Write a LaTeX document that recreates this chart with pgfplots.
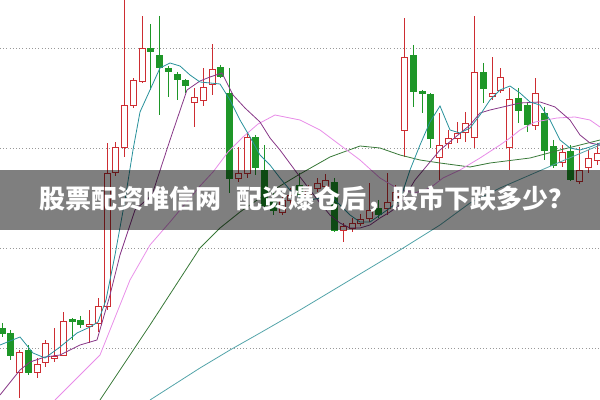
\documentclass[border=0pt]{standalone}
\usepackage{pgfplots}
\pgfplotsset{compat=1.18}
\usepgfplotslibrary{statistics}
\usepackage{fontspec}
\newfontfamily\cjk{Noto Sans CJK SC}
\definecolor{kred}{RGB}{205,45,50}
\definecolor{kgreen}{RGB}{30,150,40}
\definecolor{mafive}{RGB}{40,145,155}
\definecolor{maten}{RGB}{135,55,135}
\definecolor{matwenty}{RGB}{232,140,232}
\definecolor{mathirty}{RGB}{55,120,55}
\definecolor{masixty}{RGB}{85,165,170}
% candle: x, open, high, low, close
\newcommand\up[5]{\addplot[draw=kred, fill=white, line width=0.6pt,
  boxplot prepared={draw position=#1, lower whisker=#4, lower quartile=#2,
  median=#2, upper quartile=#5, upper whisker=#3}] coordinates {};}
\newcommand\dn[5]{\addplot[draw=kgreen, fill=kgreen, line width=0.6pt,
  boxplot prepared={draw position=#1, lower whisker=#4, lower quartile=#5,
  median=#5, upper quartile=#2, upper whisker=#3}] coordinates {};}
\begin{document}
\begin{tikzpicture}
\begin{axis}[
  width=450pt, height=300pt, scale only axis,
  xmin=0, xmax=600, ymin=0, ymax=400,
  axis line style={draw=none},
  xtick=\empty, ytick={52,152,252,352}, yticklabels={},
  major tick length=0pt,
  ymajorgrids, grid style={dotted, gray!80, line width=0.7pt},
  boxplot/draw direction=y,
  boxplot/box extend=6, boxplot/whisker extend=0,
]
\dn{2}{72}{77}{63}{67}
\dn{10.75}{67}{70}{40}{45}
\up{19.5}{28}{50}{2}{48}
\dn{28.25}{50}{55}{25}{28}
\up{37}{28}{42}{22}{36}
\up{45.75}{38}{60}{33}{57}
\up{54.5}{42}{72}{38}{44}
\up{63.25}{45}{88}{44}{79}
\dn{72}{81}{82}{60}{79}
\dn{80.75}{80}{84}{72}{76}
\up{89.5}{74}{90}{57}{76}
\up{98.25}{77}{102}{68}{94}
\up{107}{94}{257}{90}{227}
\up{115.75}{228}{258}{224}{253}
\up{124.5}{253}{400}{243}{295}
\up{133.25}{295}{322}{292}{320}
\up{142}{319}{384}{317}{352}
\dn{150.75}{352}{376}{310}{349}
\dn{159.5}{345}{384}{285}{333}
\dn{168.25}{332}{334}{303}{329}
\dn{177}{326}{328}{300}{321}
\dn{185.75}{320}{321}{307}{315}
\up{194.5}{298}{312}{273}{303}
\up{203.25}{300}{332}{294}{313}
\up{212}{316}{356}{305}{331}
\dn{220.75}{333}{335}{322}{324}
\dn{229.5}{307}{332}{207}{222}
\up{238.25}{222}{253}{218}{227}
\up{247}{227}{267}{222}{263}
\dn{255.75}{263}{265}{225}{233}
\dn{264.5}{230}{255}{190}{195}
\dn{273.25}{200}{210}{185}{190}
\up{282}{188}{205}{185}{200}
\up{290.75}{200}{212}{195}{205}
\dn{299.5}{215}{227}{200}{205}
\up{308.25}{205}{215}{200}{210}
\up{317}{212}{222}{208}{217}
\up{325.75}{214}{226}{210}{220}
\dn{334.5}{218}{222}{168}{170}
\up{343.25}{170}{177}{158}{174}
\up{352}{172}{182}{168}{177}
\up{360.75}{177}{186}{174}{181}
\up{369.5}{182}{217}{178}{190}
\dn{378.25}{192}{200}{182}{186}
\up{387}{192}{227}{185}{198}
\up{395.75}{200}{215}{195}{208}
\up{404.5}{270}{382}{243}{343}
\dn{413.25}{345}{355}{293}{309}
\dn{422}{309}{310}{287}{307}
\dn{430.75}{306}{307}{252}{262}
\up{439.5}{243}{287}{220}{255}
\up{448.25}{257}{270}{252}{262}
\up{457}{262}{278}{257}{267}
\up{465.75}{268}{288}{258}{277}
\up{474.5}{263}{384}{252}{328}
\dn{483.25}{328}{337}{297}{312}
\up{492}{304}{343}{300}{307}
\up{500.75}{310}{332}{307}{323}
\up{509.5}{253}{312}{230}{301}
\dn{518.25}{302}{312}{277}{290}
\dn{527}{295}{298}{268}{276}
\up{535.75}{275}{322}{270}{307}
\dn{544.5}{287}{293}{240}{250}
\dn{553.25}{254}{260}{232}{235}
\up{562}{238}{255}{233}{248}
\dn{570.75}{249}{255}{219}{221}
\up{579.5}{219}{253}{216}{230}
\up{588.25}{233}{250}{227}{242}
\up{597}{240}{257}{235}{247}
% moving averages
\addplot[masixty, line width=0.6pt] coordinates {(150,0) (200,32) (230,50) (260,67) (300,90) (345,117) (400,150) (440,175) (470,197) (500,212) (530,225) (560,238) (600,255)};
\addplot[mathirty, line width=0.6pt] coordinates {(100,0) (150,75) (200,152) (220,172) (240,188) (260,202) (280,214) (300,226) (330,243) (360,254) (380,252) (400,245) (420,240) (440,237) (470,233) (490,237) (530,242) (560,250) (600,260)};
\addplot[matwenty, line width=0.6pt] coordinates {(55,0) (85,30) (100,45) (110,70) (130,120) (150,155) (170,178) (190,202) (200,214) (213,228) (228,248) (243,263) (258,276) (275,285) (300,280) (320,270) (340,255) (360,240) (380,222) (400,210) (415,207) (430,212) (443,222) (460,230) (480,242) (500,255) (510,262) (520,270) (535,278) (557,282) (575,283) (590,280) (600,273)};
\addplot[maten, line width=0.6pt] coordinates {(0,5) (20,30) (30,38) (45,43) (60,45) (80,55) (97,60) (110,105) (120,145) (135,190) (152,205) (170,260) (187,310) (200,319) (210,323) (222,327) (233,305) (245,292) (260,278) (270,262) (280,250) (297,227) (310,210) (320,197) (330,185) (340,177) (350,172) (360,172) (370,175) (380,182) (390,188) (400,195) (415,220) (440,250) (470,275) (480,287) (490,290) (520,297) (540,298) (555,293) (570,280) (580,265) (590,257) (600,255)};
\addplot[mafive, line width=0.6pt] coordinates {(0,55) (20,63) (33,47) (45,42) (60,53) (77,67) (90,73) (98,78) (106,100) (115,145) (125,200) (133,250) (140,288) (150,310) (160,332) (170,337) (180,334) (190,325) (200,318) (220,316) (230,300) (240,280) (250,263) (260,245) (270,235) (280,222) (290,210) (300,202) (310,200) (320,202) (330,205) (340,195) (350,185) (360,178) (370,178) (380,185) (390,192) (400,200) (410,230) (420,255) (430,278) (440,294) (450,270) (460,267) (470,272) (480,285) (490,300) (500,310) (510,314) (520,307) (530,298) (540,295) (550,280) (560,260) (570,252) (580,250) (590,253) (600,257)};
% banner
\fill[black, opacity=0.5] (axis cs:0,170) rectangle (axis cs:600,230);
\node[text=white, font=\cjk\bfseries\fontsize{19.5}{21}\selectfont] at (axis cs:307,201) {股票配资唯信网\hspace{0.6em}配资爆仓后，股市下跌多少？};
\end{axis}
\pgfresetboundingbox
\useasboundingbox (current axis.south west) rectangle (current axis.north east);
\end{tikzpicture}
\end{document}
